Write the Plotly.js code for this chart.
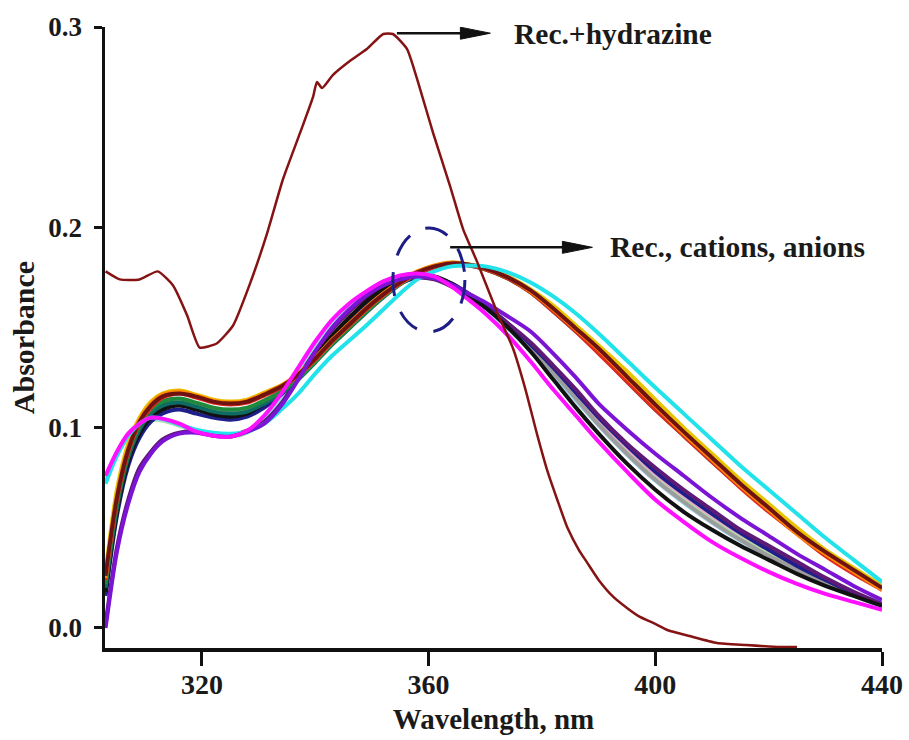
<!DOCTYPE html>
<html>
<head>
<meta charset="utf-8">
<script src="https://cdn.plot.ly/plotly-3.0.1.min.js"></script>
<style>html,body{margin:0;padding:0;background:#fff;}#chart{width:909px;height:740px;}</style>
</head>
<body>
<div id="chart"></div>
<script>
// Common wavelength grid (nm) for receptor + cation/anion spectra
const wavelengths = [303,305,307,309,311,313,316,319,322,325,328,331,334,337,340,343,346,349,352,355,358,361,364,367,370,374,378,382,386,390,395,400,405,410,415,420,425,430,435,440];

// Red-shifted group
const orange   = [0.025,0.066,0.090,0.104,0.112,0.1165,0.118,0.116,0.1135,0.1125,0.1135,0.117,0.121,0.127,0.135,0.144,0.152,0.160,0.167,0.173,0.178,0.181,0.1825,0.1815,0.1795,0.175,0.168,0.159,0.149,0.139,0.125,0.111,0.097,0.084,0.071,0.059,0.047,0.037,0.028,0.019];
const gold     = [0.028,0.069,0.092,0.105,0.113,0.117,0.1185,0.1165,0.114,0.113,0.114,0.1175,0.121,0.126,0.134,0.143,0.151,0.159,0.166,0.172,0.177,0.1805,0.182,0.1815,0.180,0.1755,0.169,0.161,0.151,0.141,0.128,0.114,0.100,0.087,0.074,0.062,0.050,0.039,0.030,0.021];
const red      = [0.024,0.064,0.088,0.102,0.110,0.115,0.117,0.115,0.1125,0.1115,0.1125,0.116,0.120,0.126,0.134,0.143,0.151,0.159,0.166,0.172,0.177,0.180,0.1815,0.181,0.179,0.1745,0.1675,0.158,0.148,0.137,0.123,0.109,0.096,0.083,0.070,0.058,0.047,0.036,0.027,0.019];
const darkRed  = [0.026,0.065,0.089,0.103,0.111,0.1155,0.117,0.1155,0.113,0.112,0.113,0.1165,0.1205,0.1265,0.1345,0.1435,0.1515,0.1595,0.1665,0.1725,0.1775,0.1805,0.182,0.1815,0.1795,0.175,0.1685,0.1595,0.1495,0.1395,0.1255,0.1115,0.098,0.085,0.072,0.060,0.048,0.038,0.029,0.020];
const green    = [0.022,0.062,0.087,0.101,0.109,0.113,0.1145,0.1125,0.110,0.109,0.110,0.1135,0.118,0.1245,0.133,0.142,0.150,0.158,0.1655,0.172,0.177,0.1805,0.182,0.181,0.179,0.1745,0.168,0.159,0.149,0.1385,0.1245,0.1105,0.097,0.084,0.071,0.059,0.048,0.038,0.029,0.020];
const teal     = [0.020,0.060,0.085,0.099,0.107,0.111,0.1125,0.1105,0.108,0.107,0.108,0.112,0.117,0.124,0.1325,0.1415,0.1495,0.1575,0.165,0.1715,0.1765,0.180,0.1815,0.181,0.179,0.1745,0.1675,0.158,0.148,0.1375,0.123,0.109,0.096,0.083,0.0705,0.0585,0.0475,0.0375,0.0285,0.0195];
const cyan     = [0.072,0.086,0.096,0.102,0.105,0.1045,0.1015,0.099,0.0975,0.097,0.098,0.102,0.109,0.117,0.127,0.136,0.1435,0.151,0.159,0.167,0.174,0.178,0.1805,0.181,0.1805,0.1775,0.1725,0.1655,0.157,0.147,0.1335,0.120,0.107,0.094,0.081,0.069,0.057,0.045,0.034,0.023];

// Blue-shifted group
const magenta  = [0.076,0.088,0.097,0.102,0.105,0.1045,0.102,0.098,0.096,0.0955,0.0985,0.106,0.117,0.130,0.143,0.154,0.162,0.168,0.173,0.176,0.177,0.1755,0.1705,0.164,0.157,0.146,0.133,0.119,0.106,0.093,0.078,0.064,0.053,0.043,0.035,0.028,0.022,0.017,0.013,0.009];
const violet   = [0.000,0.038,0.062,0.078,0.087,0.093,0.097,0.0975,0.096,0.0955,0.098,0.102,0.111,0.124,0.138,0.150,0.159,0.166,0.171,0.174,0.1755,0.1745,0.1715,0.167,0.1625,0.1555,0.148,0.137,0.125,0.112,0.099,0.087,0.076,0.065,0.055,0.046,0.037,0.029,0.021,0.014];
const purple   = [0.002,0.040,0.064,0.080,0.088,0.094,0.0975,0.098,0.0965,0.096,0.0985,0.103,0.112,0.125,0.138,0.149,0.158,0.165,0.170,0.1735,0.175,0.174,0.1705,0.1655,0.160,0.152,0.1425,0.131,0.119,0.106,0.092,0.080,0.069,0.059,0.049,0.041,0.033,0.025,0.018,0.012];
const black    = [0.018,0.058,0.083,0.097,0.105,0.109,0.111,0.109,0.1065,0.1055,0.107,0.112,0.118,0.126,0.136,0.146,0.155,0.163,0.169,0.174,0.176,0.1755,0.172,0.166,0.160,0.150,0.138,0.124,0.110,0.097,0.082,0.069,0.058,0.049,0.041,0.034,0.027,0.021,0.016,0.011];
const lightBlue= [0.074,0.087,0.0965,0.1015,0.1045,0.104,0.1015,0.0985,0.0965,0.096,0.098,0.104,0.114,0.127,0.140,0.151,0.160,0.167,0.172,0.1755,0.1765,0.175,0.171,0.1655,0.159,0.1495,0.138,0.126,0.1135,0.101,0.0865,0.0735,0.0625,0.0525,0.0435,0.0355,0.0285,0.022,0.016,0.0105];
const pink     = [0.075,0.0875,0.097,0.102,0.105,0.1045,0.102,0.0985,0.0965,0.096,0.0985,0.105,0.115,0.128,0.141,0.152,0.161,0.1675,0.172,0.175,0.1765,0.1755,0.172,0.167,0.161,0.152,0.141,0.129,0.117,0.104,0.090,0.077,0.066,0.056,0.047,0.039,0.031,0.024,0.0175,0.0115];
const gray     = [0.022,0.061,0.086,0.100,0.108,0.112,0.1135,0.1115,0.109,0.108,0.1095,0.1135,0.119,0.1265,0.136,0.146,0.155,0.162,0.168,0.173,0.1755,0.175,0.1715,0.1665,0.1605,0.151,0.140,0.1275,0.1145,0.1015,0.087,0.074,0.063,0.053,0.044,0.036,0.029,0.0225,0.0165,0.011];
const navy     = [0.016,0.056,0.081,0.095,0.103,0.107,0.109,0.107,0.105,0.104,0.1055,0.110,0.1165,0.125,0.1345,0.1445,0.1535,0.161,0.1675,0.172,0.175,0.175,0.172,0.167,0.161,0.152,0.1415,0.130,0.1175,0.105,0.091,0.078,0.067,0.057,0.0475,0.039,0.031,0.024,0.0175,0.0115];
const lightGreen=[0.073,0.086,0.0955,0.101,0.104,0.1035,0.101,0.098,0.096,0.0955,0.0975,0.1035,0.113,0.1255,0.1385,0.1495,0.1585,0.1655,0.1705,0.174,0.1755,0.1745,0.171,0.166,0.160,0.1505,0.1395,0.1275,0.115,0.1025,0.088,0.075,0.064,0.054,0.045,0.037,0.0295,0.023,0.017,0.011];

// Receptor + hydrazine spectrum
const hydrazineWl  = [303,305.5,309,312.2,314.9,317.4,319.6,322.6,325.5,328.5,331.5,334.3,337.3,339.6,340.3,341.2,343.1,346.1,349.1,352,353.7,356.2,358.5,360.8,363.8,366.1,368.6,372.1,374.9,377,379.2,381,382.7,384.5,386.5,388,390,392.6,395,397.3,400,402.1,406,410.9,416,422,425];
const hydrazineAbs = [0.178,0.174,0.174,0.178,0.171,0.156,0.140,0.142,0.151,0.172,0.197,0.224,0.247,0.265,0.2725,0.2695,0.276,0.283,0.289,0.2965,0.2965,0.289,0.269,0.247,0.2205,0.199,0.1825,0.1575,0.1395,0.120,0.096,0.078,0.064,0.050,0.039,0.0325,0.024,0.0155,0.010,0.0055,0.002,-0.001,-0.004,-0.0075,-0.0085,-0.0095,-0.0095];

// Axis ticks
const xTicks = [320, 360, 400, 440];
const yTicks = [0.0, 0.1, 0.2, 0.3];

const series = [
  {name:'light green', y: lightGreen, c:'#a8e2a0'},
  {name:'pink',        y: pink,       c:'#eaa8c8'},
  {name:'light blue',  y: lightBlue,  c:'#9ed8ec'},
  {name:'gray',        y: gray,       c:'#9c9c9c'},
  {name:'navy',        y: navy,       c:'#1f1f8c'},
  {name:'purple',      y: purple,     c:'#5e1a74'},
  {name:'black',       y: black,      c:'#111111'},
  {name:'teal',        y: teal,       c:'#0e6b62'},
  {name:'green',       y: green,      c:'#1f8a3b'},
  {name:'gold',        y: gold,       c:'#e8c400'},
  {name:'red',         y: red,        c:'#e02a20'},
  {name:'orange',      y: orange,     c:'#ff8c00'},
  {name:'dark red',    y: darkRed,    c:'#6e1212'},
  {name:'cyan',        y: cyan,       c:'#22e2ea'},
  {name:'violet',      y: violet,     c:'#7b14d4'},
  {name:'magenta',     y: magenta,    c:'#ff10ff'}
];

const traces = series.map(s => ({
  type:'scatter', mode:'lines', name:s.name,
  x: wavelengths, y: s.y,
  line:{color:s.c, width:4, shape:'spline', smoothing:0.8},
  hoverinfo:'skip', showlegend:false
}));
traces.push({
  type:'scatter', mode:'lines', name:'Rec.+hydrazine',
  x: hydrazineWl, y: hydrazineAbs,
  line:{color:'#861313', width:2.5, shape:'spline', smoothing:0.5},
  showlegend:false
});

const FONT = 'Liberation Serif, Times New Roman, serif';
const TXT = '#1a1a1a';

const layout = {
  width:909, height:740,
  margin:{l:105, r:27, t:27, b:92},
  paper_bgcolor:'#ffffff', plot_bgcolor:'#ffffff',
  showlegend:false,
  xaxis:{
    range:[302.9, 440],
    tickvals: xTicks, ticktext: xTicks.map(String),
    ticks:'outside', ticklen:14, tickwidth:3, tickcolor:'#111',
    ticklabelstandoff:-5,
    showline:true, linewidth:3.5, linecolor:'#111',
    showgrid:false, zeroline:false,
    tickfont:{family:FONT, size:28, color:TXT, weight:'bold'},
    title:{text:'Wavelength, nm', font:{family:FONT, size:29, color:TXT, weight:'bold'}, standoff:10}
  },
  yaxis:{
    range:[-0.01, 0.3],
    tickvals: yTicks, tickformat:'.1f',
    ticks:'outside', ticklen:8, tickwidth:3, tickcolor:'#111',
    ticklabelstandoff:6,
    showline:true, linewidth:3.5, linecolor:'#111',
    showgrid:false, zeroline:false,
    tickfont:{family:FONT, size:27, color:TXT, weight:'bold'},
    title:{text:'Absorbance', font:{family:FONT, size:30, color:TXT, weight:'bold'}, standoff:6}
  },
  shapes:[
    {type:'circle', xref:'x', yref:'y', x0:353.7, x1:366.4, y0:0.1478, y1:0.1997,
     line:{color:'#1d1d86', width:3, dash:'24px,17px'}},
    {type:'line', xref:'x', yref:'y', x0:354.4, x1:367, y0:0.2969, y1:0.2969,
     line:{color:'#111', width:2.5}},
    {type:'path', xref:'x', yref:'y', xsizemode:'pixel', ysizemode:'pixel',
     xanchor:370.9, yanchor:0.2969, path:'M0,0 L-30,6 L-30,-6 Z',
     fillcolor:'#111', line:{color:'#111', width:1}},
    {type:'line', xref:'x', yref:'y', x0:363.8, x1:385, y0:0.190, y1:0.190,
     line:{color:'#111', width:2.5}},
    {type:'path', xref:'x', yref:'y', xsizemode:'pixel', ysizemode:'pixel',
     xanchor:388.9, yanchor:0.190, path:'M0,0 L-30,6 L-30,-6 Z',
     fillcolor:'#111', line:{color:'#111', width:1}}
  ],
  annotations:[
    {x:374.75, y:0.2965, xref:'x', yref:'y', xanchor:'left', yanchor:'middle', showarrow:false,
     text:'Rec.+hydrazine', font:{family:FONT, size:29.5, color:TXT, weight:'bold'}},
    {x:391.7, y:0.190, xref:'x', yref:'y', xanchor:'left', yanchor:'middle', showarrow:false,
     text:'Rec., cations, anions', font:{family:FONT, size:29.5, color:TXT, weight:'bold'}}
  ]
};

Plotly.newPlot('chart', traces, layout, {displayModeBar:false, staticPlot:true});
</script>
</body>
</html>
